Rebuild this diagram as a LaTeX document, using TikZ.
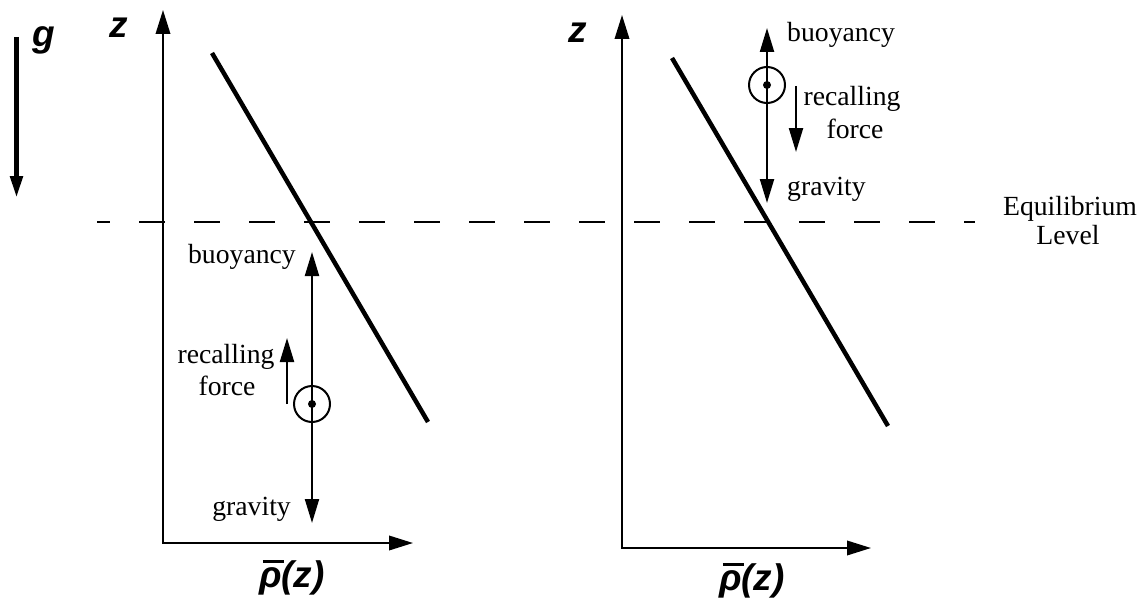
\documentclass[tikz,border=0pt]{standalone}
\usepackage{fontspec}
\setmainfont{Liberation Serif}
\newfontfamily\hvfont{Liberation Sans}
\usetikzlibrary{arrows.meta}
\newcommand\rhobar{\leavevmode\rlap{\kern0.1em\rule[0.66em]{0.56em}{0.075em}}ρ}
\begin{document}
\begin{tikzpicture}[x=1pt,y=-1pt,
  axes/.style={line width=2pt,{Triangle[length=24pt,width=14.5pt]}-{Triangle[length=24pt,width=14.5pt]}},
  force/.style={line width=2.2pt,-{Triangle[length=24pt,width=14pt]}},
  gravarrow/.style={line width=5pt,-{Triangle[length=22pt,width=12pt]}},
  profile/.style={line width=4.5pt},
  eqline/.style={line width=2pt,dash pattern=on 26pt off 29pt,dash phase=13pt},
  lbl/.style={font=\fontsize{27.7}{30}\selectfont, inner sep=0pt},
  sym/.style={font=\hvfont\bfseries\itshape\fontsize{37}{40}\selectfont, inner sep=0pt},
  parcel/.style={circle,draw,line width=2pt,minimum size=36pt,inner sep=0pt},
  dotc/.style={circle,fill,minimum size=8pt,inner sep=0pt}]
\useasboundingbox (0,0) rectangle (1147,599);

% gravity direction
\coordinate (gtop) at (16.5,37);
\coordinate (gtip) at (16.5,198);
\draw[gravarrow] (gtop) -- (gtip);
\node[sym,anchor=base] (glbl) at (44,47) {g};

% equilibrium level
\coordinate (eqL) at (97,222);
\coordinate (eqR) at (975,222);
\draw[eqline] (eqL) -- (eqR);
\node[lbl,anchor=base] (eq1) at (1070,215) {Equilibrium};
\node[lbl,anchor=base] (eq2) at (1068,244) {Level};

% ---------- left panel ----------
\coordinate (o1) at (163,543);
\coordinate (zt1) at (163,10);
\coordinate (rt1) at (413,543);
\draw[axes] (zt1) -- (o1) -- (rt1);
\node[sym,anchor=base] (z1) at (119,38) {z};
\node[sym,anchor=base] (r1) at (292,587) {\rhobar(z)};
\coordinate (pa1) at (212,53);
\coordinate (pb1) at (428,422);
\draw[profile] (pa1) -- (pb1);

\node[parcel] (p1) at (312,404) {};
\node[dotc] (d1) at (p1.center) {};
\coordinate (bu1) at (312,252);
\coordinate (gr1) at (312,523);
\draw[force] (p1.center) -- (bu1);
\draw[force] (p1.center) -- (gr1);
\coordinate (rs1) at (287,404);
\coordinate (re1) at (287,338);
\draw[force] (rs1) -- (re1);
\node[lbl,anchor=base east] (lb1) at (296,263) {buoyancy};
\node[lbl,anchor=base] (lr1) at (226,363) {recalling};
\node[lbl,anchor=base] (lf1) at (227,395) {force};
\node[lbl,anchor=base east] (lg1) at (291,515) {gravity};

% ---------- right panel ----------
\coordinate (o2) at (622,548);
\coordinate (zt2) at (622,15);
\coordinate (rt2) at (871,548);
\draw[axes] (zt2) -- (o2) -- (rt2);
\node[sym,anchor=base] (z2) at (578,43) {z};
\node[sym,anchor=base] (r2) at (752,590) {\rhobar(z)};
\coordinate (pa2) at (672,58);
\coordinate (pb2) at (888,426);
\draw[profile] (pa2) -- (pb2);

\node[parcel] (p2) at (767,85) {};
\node[dotc] (d2) at (p2.center) {};
\coordinate (bu2) at (767,28);
\coordinate (gr2) at (767,203);
\draw[force] (p2.center) -- (bu2);
\draw[force] (p2.center) -- (gr2);
\coordinate (rs2) at (796,86);
\coordinate (re2) at (796,152);
\draw[force] (rs2) -- (re2);
\node[lbl,anchor=base west] (lb2) at (787,42) {buoyancy};
\node[lbl,anchor=base] (lr2) at (852,106) {recalling};
\node[lbl,anchor=base] (lf2) at (855,138) {force};
\node[lbl,anchor=base west] (lg2) at (787,195) {gravity};
\end{tikzpicture}
\end{document}
